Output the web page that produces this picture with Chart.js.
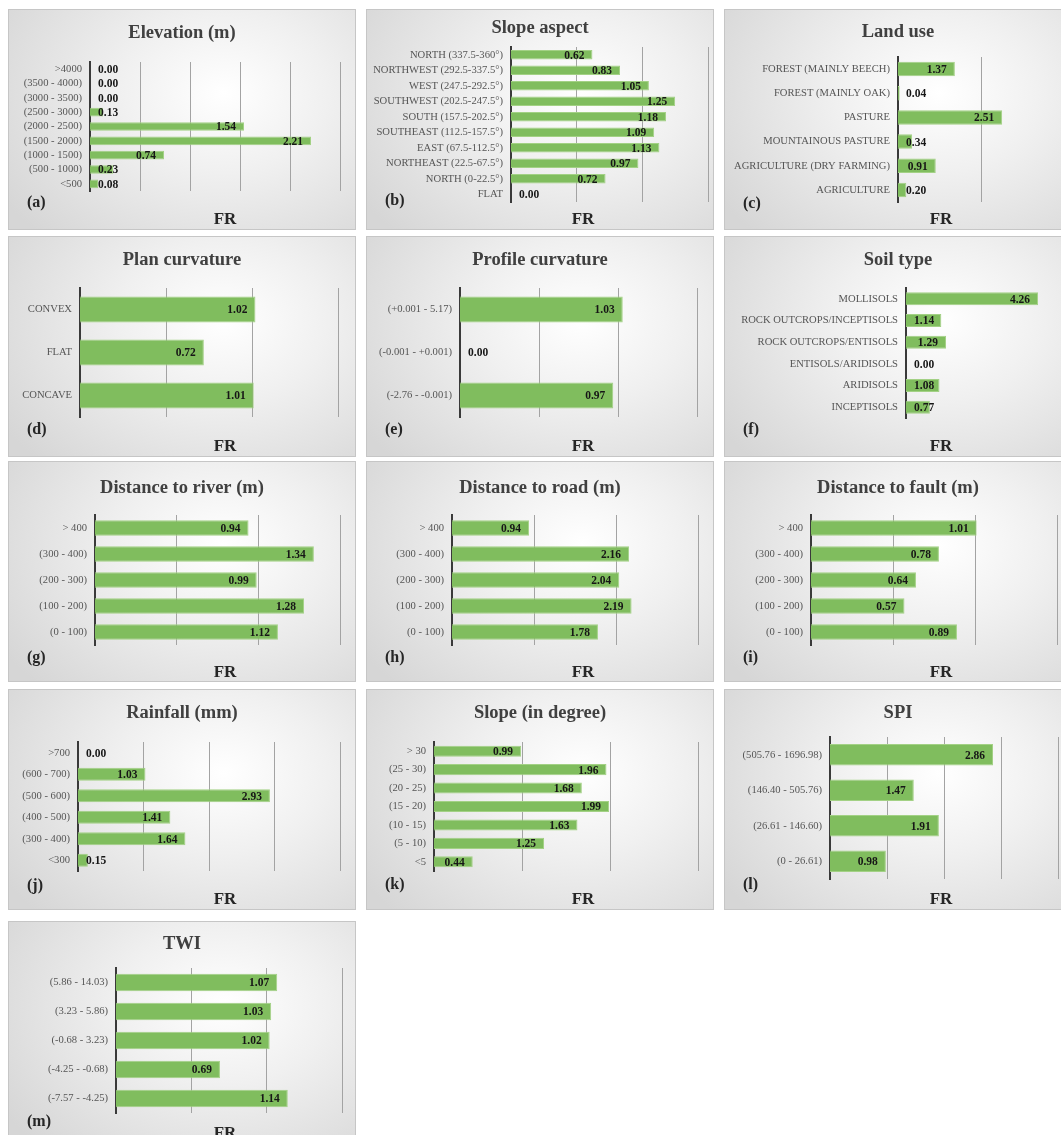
<!DOCTYPE html>
<html>
<head>
<meta charset="utf-8">
<script src="https://cdn.jsdelivr.net/npm/chart.js@4"></script>
<style>
  html, body { margin: 0; padding: 0; background: #fff; overflow: hidden; }
  body { width: 1061px; height: 1135px; position: relative; }
  .panel {
    position: absolute; width: 348px; height: 221px;
    background: radial-gradient(ellipse 75% 90% at 62% 38%, #ffffff 0%, #f0f0f0 40%, #d6d6d6 100%);
    box-shadow: inset 0 0 0 1px #c6c6c6;
  }
  .panel canvas { position: absolute; left: 0; top: 0; }
</style>
</head>
<body>
<script>
// frequency ratio (FR) per class, top row of each chart first
var elevCats = ['>4000', '(3500 - 4000)', '(3000 - 3500)', '(2500 - 3000)', '(2000 - 2500)', '(1500 - 2000)', '(1000 - 1500)', '(500 - 1000)', '<500'];
var elevFR = [0.00, 0.00, 0.00, 0.13, 1.54, 2.21, 0.74, 0.23, 0.08];

var aspectCats = ['NORTH (337.5-360°)', 'NORTHWEST (292.5-337.5°)', 'WEST (247.5-292.5°)', 'SOUTHWEST (202.5-247.5°)', 'SOUTH (157.5-202.5°)', 'SOUTHEAST (112.5-157.5°)', 'EAST (67.5-112.5°)', 'NORTHEAST (22.5-67.5°)', 'NORTH (0-22.5°)', 'FLAT'];
var aspectFR = [0.62, 0.83, 1.05, 1.25, 1.18, 1.09, 1.13, 0.97, 0.72, 0.00];

var landCats = ['FOREST (MAINLY BEECH)', 'FOREST (MAINLY OAK)', 'PASTURE', 'MOUNTAINOUS PASTURE', 'AGRICULTURE (DRY FARMING)', 'AGRICULTURE'];
var landFR = [1.37, 0.04, 2.51, 0.34, 0.91, 0.20];

var planCats = ['CONVEX', 'FLAT', 'CONCAVE'];
var planFR = [1.02, 0.72, 1.01];

var profCats = ['(+0.001 - 5.17)', '(-0.001 - +0.001)', '(-2.76 - -0.001)'];
var profFR = [1.03, 0.00, 0.97];

var soilCats = ['MOLLISOLS', 'ROCK OUTCROPS/INCEPTISOLS', 'ROCK OUTCROPS/ENTISOLS', 'ENTISOLS/ARIDISOLS', 'ARIDISOLS', 'INCEPTISOLS'];
var soilFR = [4.26, 1.14, 1.29, 0.00, 1.08, 0.77];

var distCats = ['> 400', '(300 - 400)', '(200 - 300)', '(100 - 200)', '(0 - 100)'];
var riverFR = [0.94, 1.34, 0.99, 1.28, 1.12];
var roadFR = [0.94, 2.16, 2.04, 2.19, 1.78];
var faultFR = [1.01, 0.78, 0.64, 0.57, 0.89];

var rainCats = ['>700', '(600 - 700)', '(500 - 600)', '(400 - 500)', '(300 - 400)', '<300'];
var rainFR = [0.00, 1.03, 2.93, 1.41, 1.64, 0.15];

var slopeCats = ['> 30', '(25 - 30)', '(20 - 25)', '(15 - 20)', '(10 - 15)', '(5 - 10)', '<5'];
var slopeFR = [0.99, 1.96, 1.68, 1.99, 1.63, 1.25, 0.44];

var spiCats = ['(505.76 - 1696.98)', '(146.40 - 505.76)', '(26.61 - 146.60)', '(0 - 26.61)'];
var spiFR = [2.86, 1.47, 1.91, 0.98];

var twiCats = ['(5.86 - 14.03)', '(3.23 - 5.86)', '(-0.68 - 3.23)', '(-4.25 - -0.68)', '(-7.57 - -4.25)'];
var twiFR = [1.07, 1.03, 1.02, 0.69, 1.14];

var halfGrid = [0.5, 1, 1.5];
var oneGrid3 = [1, 2, 3];
var oneGrid4 = [1, 2, 3, 4];

var PW = 348, PH = 221;
var SERIF = "'Liberation Serif', 'Times New Roman', serif";
var GREEN = '#80bd5e';
var GREEN_EDGE = '#a3d185';

Chart.defaults.font.family = SERIF;

// panel layout: x/y of panel, axis x, plot right/top/bottom inside the panel
var panels = [
  { x: 8,   y: 9,   title: 'Elevation (m)', tag: '(a)', cats: elevCats, vals: elevFR, max: 2.5, grid: [0.5, 1, 1.5, 2, 2.5], axisX: 82, right: 332, top: 53, bottom: 182, titleY: 24, tagY: 194, frY: 211 },
  { x: 366, y: 9,   title: 'Slope aspect', tag: '(b)', cats: aspectCats, vals: aspectFR, max: 1.5, grid: halfGrid, axisX: 145, right: 342, top: 38, bottom: 193, titleY: 19, tagY: 192, frY: 211 },
  { x: 724, y: 9,   title: 'Land use', tag: '(c)', cats: landCats, vals: landFR, max: 4, grid: [2, 4], axisX: 174, right: 340, top: 48, bottom: 193, titleY: 23, tagY: 195, frY: 211 },
  { x: 8,   y: 236, title: 'Plan curvature', tag: '(d)', cats: planCats, vals: planFR, max: 1.5, grid: halfGrid, axisX: 72, right: 330, top: 52, bottom: 181, titleY: 24, tagY: 194, frY: 211 },
  { x: 366, y: 236, title: 'Profile curvature', tag: '(e)', cats: profCats, vals: profFR, max: 1.5, grid: halfGrid, axisX: 94, right: 331, top: 52, bottom: 181, titleY: 24, tagY: 194, frY: 211 },
  { x: 724, y: 236, title: 'Soil type', tag: '(f)', cats: soilCats, vals: soilFR, max: 5, grid: [], axisX: 182, right: 337, top: 52, bottom: 182, titleY: 24, tagY: 194, frY: 211 },
  { x: 8,   y: 461, title: 'Distance to river (m)', tag: '(g)', cats: distCats, vals: riverFR, max: 1.5, grid: halfGrid, axisX: 87, right: 332, top: 54, bottom: 184, titleY: 27, tagY: 197, frY: 212 },
  { x: 366, y: 461, title: 'Distance to road (m)', tag: '(h)', cats: distCats, vals: roadFR, max: 3, grid: oneGrid3, axisX: 86, right: 332, top: 54, bottom: 184, titleY: 27, tagY: 197, frY: 212 },
  { x: 724, y: 461, title: 'Distance to fault (m)', tag: '(i)', cats: distCats, vals: faultFR, max: 1.5, grid: halfGrid, axisX: 87, right: 333, top: 54, bottom: 184, titleY: 27, tagY: 197, frY: 212 },
  { x: 8,   y: 689, title: 'Rainfall (mm)', tag: '(j)', cats: rainCats, vals: rainFR, max: 4, grid: oneGrid4, axisX: 70, right: 332, top: 53, bottom: 182, titleY: 24, tagY: 197, frY: 211 },
  { x: 366, y: 689, title: 'Slope (in degree)', tag: '(k)', cats: slopeCats, vals: slopeFR, max: 3, grid: oneGrid3, axisX: 68, right: 332, top: 53, bottom: 182, titleY: 24, tagY: 196, frY: 211 },
  { x: 724, y: 689, title: 'SPI', tag: '(l)', cats: spiCats, vals: spiFR, max: 4, grid: oneGrid4, axisX: 106, right: 334, top: 48, bottom: 190, titleY: 24, tagY: 196, frY: 211 },
  { x: 8,   y: 921, title: 'TWI', tag: '(m)', cats: twiCats, vals: twiFR, max: 1.5, grid: halfGrid, axisX: 108, right: 334, top: 47, bottom: 192, titleY: 23, tagY: 201, frY: 213 }
];

// title, panel letter, FR caption and the value labels
var panelText = {
  id: 'panelText',
  afterDatasetsDraw: function(chart) {
    var p = chart.options.plugins.panelText;
    var ctx = chart.ctx;
    var base = chart.chartArea.left;
    ctx.save();
    ctx.font = 'bold 11.5px ' + SERIF;
    ctx.fillStyle = '#161616';
    ctx.textAlign = 'right';
    ctx.textBaseline = 'middle';
    chart.getDatasetMeta(0).data.forEach(function(bar, i) {
      var txt = p.vals[i].toFixed(2);
      var w = ctx.measureText(txt).width;
      var xr = Math.max(bar.x - 8, base + 8 + w);
      ctx.fillText(txt, xr, bar.y + 1);
    });

    ctx.fillStyle = '#404040';
    ctx.textAlign = 'center';
    ctx.font = 'bold 18.5px ' + SERIF;
    ctx.fillText(p.title, PW / 2, p.titleY);

    ctx.fillStyle = '#262626';
    ctx.font = 'bold 17px ' + SERIF;
    ctx.fillText('FR', 217, p.frY);
    ctx.textAlign = 'left';
    ctx.font = 'bold 16px ' + SERIF;
    ctx.fillText(p.tag, 19, p.tagY);
    ctx.restore();
  }
};

function make_panel(p) {
  var div = document.createElement('div');
  div.className = 'panel';
  div.style.left = p.x + 'px';
  div.style.top = p.y + 'px';
  var cv = document.createElement('canvas');
  cv.width = PW;
  cv.height = PH;
  div.appendChild(cv);
  document.body.appendChild(div);

  new Chart(cv, {
    type: 'bar',
    data: {
      labels: p.cats,
      datasets: [{
        data: p.vals,
        backgroundColor: GREEN,
        borderColor: GREEN_EDGE,
        borderWidth: 1,
        barPercentage: 0.6,
        categoryPercentage: 1
      }]
    },
    options: {
      indexAxis: 'y',
      responsive: false,
      animation: false,
      layout: { padding: { left: 0, right: PW - p.right, top: p.top, bottom: PH - p.bottom } },
      plugins: {
        legend: { display: false },
        tooltip: { enabled: false },
        panelText: p
      },
      scales: {
        x: {
          min: 0,
          max: p.max,
          afterBuildTicks: function(axis) {
            axis.ticks = p.grid.map(function(v) { return { value: v }; });
          },
          afterFit: function(s) { s.height = 0; },
          ticks: { display: false },
          grid: { color: '#a3a3a3', lineWidth: 1, drawTicks: false },
          border: { display: false }
        },
        y: {
          afterFit: function(s) { s.width = p.axisX; },
          grid: { display: false, drawTicks: false },
          border: { color: '#3a3a3a', width: 2 },
          ticks: {
            autoSkip: false,
            padding: 8,
            color: '#555555',
            font: { size: 10.6, family: SERIF }
          }
        }
      }
    },
    plugins: [panelText]
  });
}

panels.forEach(make_panel);
</script>
</body>
</html>
